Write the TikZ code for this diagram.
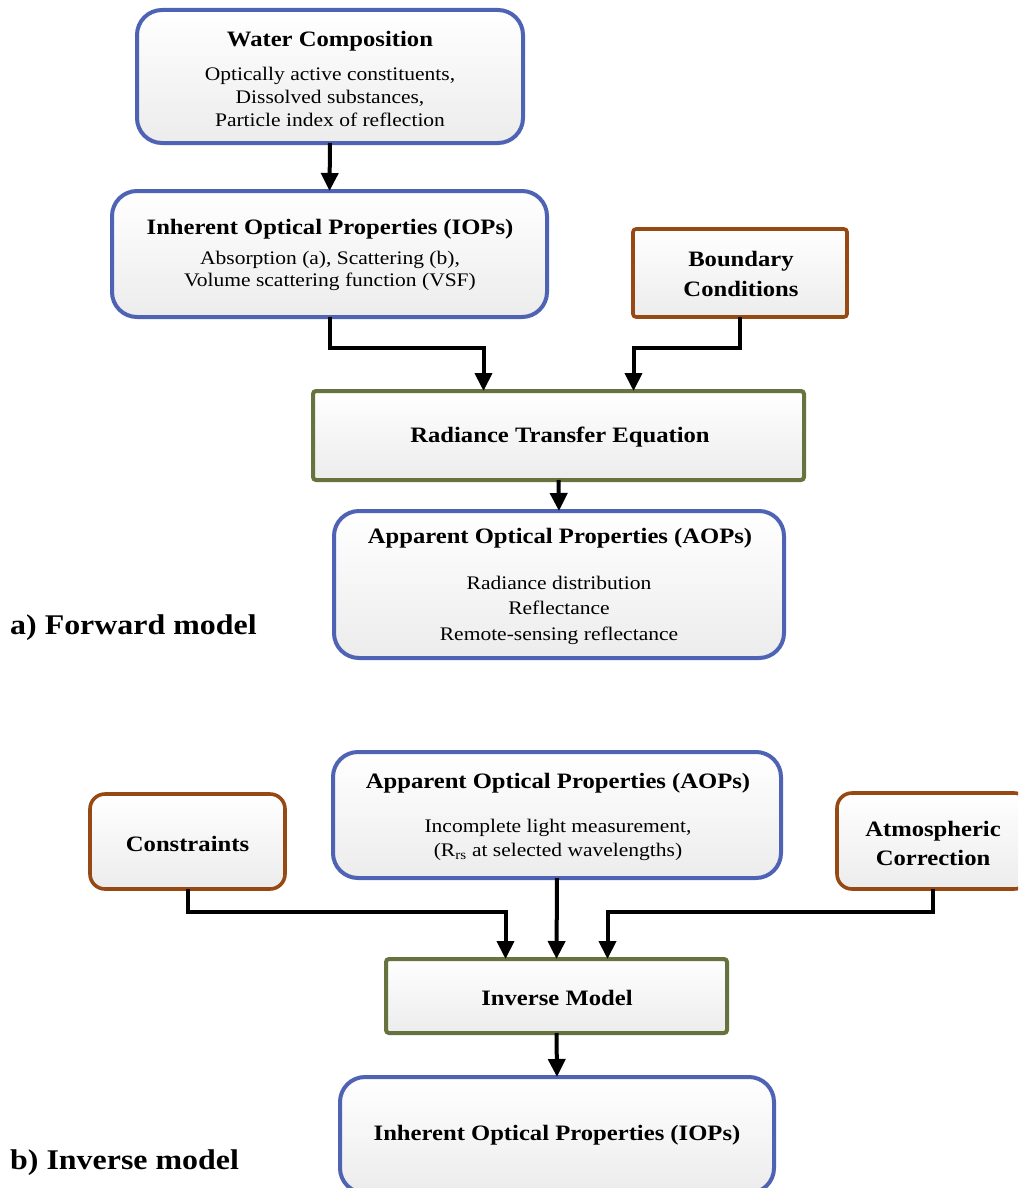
\documentclass[tikz,border=0pt]{standalone}
\usepackage{fontspec}
\setmainfont{Liberation Serif}[FakeStretch=1.12]
\usetikzlibrary{arrows.meta}
\definecolor{iopblue}{RGB}{78,99,180}
\definecolor{bcbrown}{RGB}{151,73,20}
\definecolor{eqgreen}{RGB}{103,115,62}
\definecolor{shadegray}{RGB}{236,236,236}
\tikzset{
  box/.style={inner sep=0pt, outer sep=0pt, top color=white, bottom color=shadegray},
  bluebox/.style={box, draw=iopblue, line width=4pt, rounded corners=25pt},
  brownbox/.style={box, draw=bcbrown, line width=3.6pt, rounded corners=3pt},
  brownround/.style={box, draw=bcbrown, line width=3.6pt, rounded corners=15pt},
  greenbox/.style={box, draw=eqgreen, line width=4pt, rounded corners=3pt},
  head/.style={font=\fontsize{22}{29.5}\selectfont\bfseries, align=center, inner sep=0pt},
  body/.style={font=\fontsize{19.2}{22.8}\selectfont, align=center, inner sep=0pt},
  tag/.style={font=\fontsize{28.5}{32}\selectfont\bfseries, anchor=west, inner sep=0pt},
  arr/.style={line width=4pt, -{Triangle[width=17pt,length=18pt]}},
}
\begin{document}
\begin{tikzpicture}[x=1pt, y=-1pt]
\useasboundingbox (0,0) rectangle (1018,1188);
\clip (0,0) rectangle (1018,1188);

% ---------- a) forward model ----------
\node[bluebox, minimum width=386pt, minimum height=133pt] (wc) at (330,76.5) {};
\node[head] (wcH) at (330,41) {Water Composition};
\node[body] (wcB) at (330,97) {Optically active constituents,\\Dissolved substances,\\Particle index of reflection};

\node[bluebox, minimum width=435pt, minimum height=126pt] (iop) at (329.5,254) {};
\node[head] (iopH) at (330,229) {Inherent Optical Properties (IOPs)};
\node[body] (iopB) at (330,271) {Absorption (a), Scattering (b),\\Volume scattering function (VSF)};

\node[brownbox, minimum width=214pt, minimum height=88pt] (bc) at (740,273) {};
\node[head] (bcH) at (741,274) {Boundary\\Conditions};

\node[greenbox, minimum width=491pt, minimum height=89pt] (rte) at (558.5,435.5) {};
\node[head] (rteH) at (560,437) {Radiance Transfer Equation};

\node[bluebox, minimum width=450pt, minimum height=147pt] (aop) at (559,584.5) {};
\node[head] (aopH) at (560,538) {Apparent Optical Properties (AOPs)};
\node[body, font=\fontsize{19.2}{25.5}\selectfont] (aopB) at (559,610) {Radiance distribution\\Reflectance\\Remote-sensing reflectance};

\node[tag] (tagA) at (10,628) {a) Forward model};

\draw[arr] (wc.south) -- (iop.north);
\draw[arr] (iop.south) -- ++(0,31) -| ([xshift=-75pt]rte.north);
\draw[arr] (bc.south) -- ++(0,31) -| ([xshift=75pt]rte.north);
\draw[arr] (rte.south) -- (aop.north);

% ---------- b) inverse model ----------
\node[bluebox, minimum width=448pt, minimum height=126pt] (aop2) at (557,815) {};
\node[head] (aop2H) at (558,783) {Apparent Optical Properties (AOPs)};
\node[body, font=\fontsize{19.2}{24}\selectfont] (aop2B) at (558,840) {Incomplete light measurement,\\(R\textsubscript{rs} at selected wavelengths)};

\node[brownround, minimum width=195pt, minimum height=95pt] (con) at (187.5,841.5) {};
\node[head] (conH) at (187.5,844) {Constraints};

\node[brownround, minimum width=192pt, minimum height=96pt] (atm) at (933,841) {};
\node[head] (atmH) at (933,843.5) {Atmospheric\\Correction};

\node[greenbox, minimum width=341pt, minimum height=74pt] (inv) at (556.5,996) {};
\node[head] (invH) at (557,998) {Inverse Model};

\node[bluebox, minimum width=434pt, minimum height=116pt] (iop2) at (557,1135) {};
\node[head] (iop2H) at (557,1135) {Inherent Optical Properties (IOPs)};

\node[tag] (tagB) at (10,1163) {b) Inverse model};

\draw[arr] (con.south) -- ++(0,23) -| ([xshift=-51pt]inv.north);
\draw[arr] (aop2.south) -- (inv.north);
\draw[arr] (atm.south) -- ++(0,23) -| ([xshift=51pt]inv.north);
\draw[arr] (inv.south) -- (iop2.north);
\end{tikzpicture}
\end{document}
